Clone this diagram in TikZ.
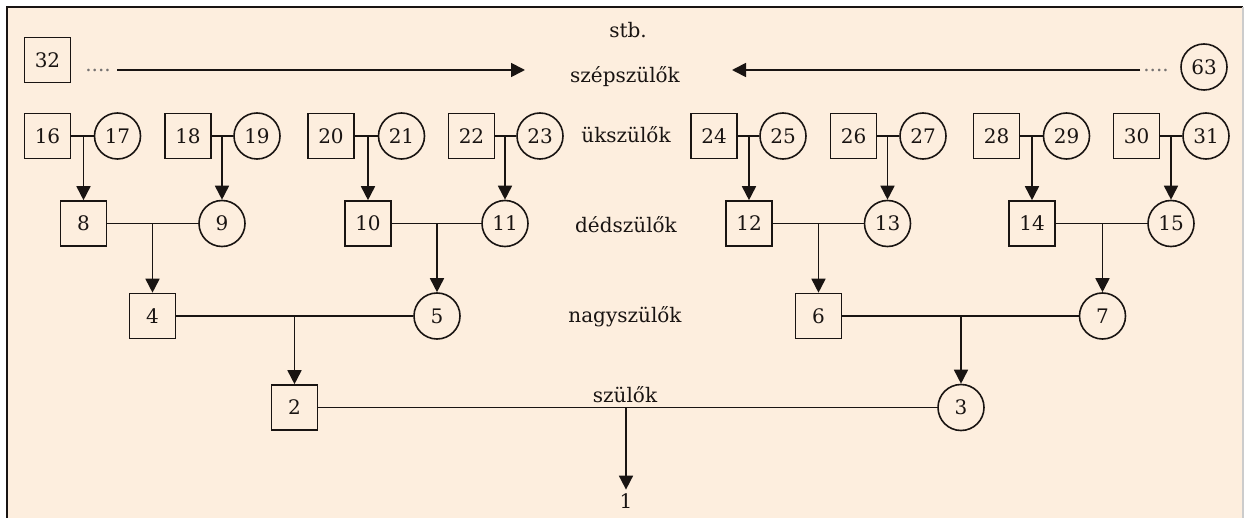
\documentclass[tikz,border=0pt]{standalone}
\usepackage{fontspec}
\setmainfont{DejaVu Serif}
\usetikzlibrary{arrows.meta,calc}
\definecolor{bgpeach}{RGB}{253,238,222}
\definecolor{ink}{RGB}{25,20,18}
\tikzset{
  every node/.style={font=\fontsize{20bp}{24bp}\selectfont, text=ink},
  man/.style={draw=ink, line width=1.6bp, minimum width=46bp, minimum height=45bp, inner sep=0pt},
  woman/.style={draw=ink, circle, line width=1.6bp, minimum size=46bp, inner sep=0pt},
  gen/.style={anchor=base},
  couple/.style={draw=ink, line width=1.7bp},
  descent/.style={draw=ink, line width=1.7bp, -{Triangle[length=14bp,width=14bp]}},
  dotsty/.style={anchor=base, text=ink!60}
}
\begin{document}
\begin{tikzpicture}[x=1bp,y=-1bp]
\useasboundingbox (0,0) rectangle (1245,518);
\fill[white] (0,0) rectangle (1245,518);
\fill[bgpeach] (7,7) rectangle (1243,518);
\draw[ink, line width=2bp] (7,518) -- (7,7) -- (1243,7);
\draw[black!20, line width=1.5bp] (1243,7) -- (1243,518);

% labels
\node[gen] (stb) at (628,38) {stb.};
\node[gen] (l5) at (625,83) {szépszülők};
\node[gen] (l4) at (626,143) {ükszülők};
\node[gen] (l3) at (626,233) {dédszülők};
\node[gen] (l2) at (625,323) {nagyszülők};
\node[gen] (l1) at (625,402) {szülők};
\node[gen] (one) at (626,508) {1};

% top row
\node[man] (b32) at (47.5,60) {32};
\node[woman] (c63) at (1204,67) {63};
\node[dotsty] (dl) at (98,72) {....};
\node[dotsty] (dr) at (1156,72) {....};
\coordinate (sl) at (117,70);
\coordinate (tl) at (525,70);
\coordinate (sr) at (1140,70);
\coordinate (tr) at (732,70);
\draw[descent] (sl) -- (tl);
\draw[descent] (sr) -- (tr);

% row 2
\foreach \n/\x in {16/47.5,18/188,20/331,22/471.5,24/714,26/853.5,28/996.5,30/1136.5}
  \node[man] (b\n) at (\x,136) {\n};
\foreach \n/\x in {17/117.5,19/257,21/401.5,23/540,25/783,27/923,29/1066.5,31/1206}
  \node[woman] (c\n) at (\x,136) {\n};

% row 3
\node[man] (b8) at (83.5,223.5) {8};
\node[woman] (c9) at (222,223.5) {9};
\node[man] (b10) at (368,223.5) {10};
\node[woman] (c11) at (505,223.5) {11};
\node[man] (b12) at (749,223.5) {12};
\node[woman] (c13) at (887.5,223.5) {13};
\node[man] (b14) at (1032,223.5) {14};
\node[woman] (c15) at (1171,223.5) {15};

% row 4
\node[man] (b4) at (152.5,316) {4};
\node[woman] (c5) at (437,316) {5};
\node[man] (b6) at (818.5,316) {6};
\node[woman] (c7) at (1102.5,316) {7};

% row 5
\node[man] (b2) at (294.5,407.5) {2};
\node[woman] (c3) at (961,407.5) {3};

% couples and descent
\foreach \f/\m/\k in {b16/c17/b8, b18/c19/c9, b20/c21/b10, b22/c23/c11,
                      b24/c25/b12, b26/c27/c13, b28/c29/b14, b30/c31/c15,
                      b8/c9/b4, b10/c11/c5, b12/c13/b6, b14/c15/c7,
                      b4/c5/b2, b6/c7/c3, b2/c3/one}{
  \draw[couple] (\f.east) -- (\m.west);
  \coordinate (m-\k) at ($(\f.east)!0.5!(\m.west)$);
  \draw[descent] (\k.north |- m-\k) -- (\k.north);
}
\end{tikzpicture}
\end{document}
